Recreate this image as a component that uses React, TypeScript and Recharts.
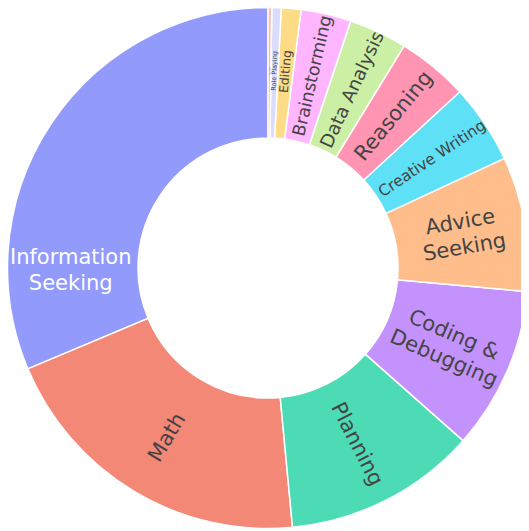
import { Cell, Pie, PieChart } from "recharts";

const categories = [
  "Information Seeking",
  "Math",
  "Planning",
  "Coding & Debugging",
  "Advice Seeking",
  "Creative Writing",
  "Reasoning",
  "Data Analysis",
  "Brainstorming",
  "Editing",
  "Role Playing",
  "Others",
];
const shares = [31.33, 20.17, 11.97, 10.08, 8.36, 4.92, 4.42, 3.61, 3.11, 1.22, 0.58, 0.23];
const labelLines = [
  ["Information", "Seeking"],
  ["Math"],
  ["Planning"],
  ["Coding &", "Debugging"],
  ["Advice", "Seeking"],
  ["Creative Writing"],
  ["Reasoning"],
  ["Data Analysis"],
  ["Brainstorming"],
  ["Editing"],
  ["Role Playing"],
  ["Others"],
];

const colors = [
  "#929AFC", "#F48876", "#4DDBB6", "#C492FC", "#FFBD8C", "#5EE0F7",
  "#FF94B3", "#CCEFA6", "#FFB6FF", "#FEDB86", "#D9DCFA", "#F8C0B6",
];
// label font size per slice (plotly shrinks text to fit)
const fontSizes = [21, 21, 21, 21, 21, 15.5, 21, 18.5, 17.5, 12.3, 6.5, 2];

const data = categories.map((c, i) => ({ name: c, value: shares[i] }));

const FONT = "'DejaVu Sans', Verdana, sans-serif";
const RAD = Math.PI / 180;

function renderLabel(props: any) {
  const { cx, cy, midAngle, innerRadius, outerRadius, index } = props;
  const r = (innerRadius + outerRadius) / 2 + 2;
  const horizontal = index === 0;
  let a = ((midAngle % 360) + 360) % 360;
  if (horizontal) a = 180.5;
  const x = cx + r * Math.cos(-a * RAD);
  const y = cy + r * Math.sin(-a * RAD);
  let rot = 0;
  if (!horizontal) {
    rot = a > 90 && a < 270 ? 180 - a : -a;
    while (rot > 180) rot -= 360;
    while (rot <= -180) rot += 360;
  }
  const lines = labelLines[index];
  const size = fontSizes[index];
  const lh = size * 1.22;
  const first = -((lines.length - 1) / 2) * lh;
  return (
    <text
      x={x}
      y={y}
      transform={`rotate(${rot} ${x} ${y})`}
      textAnchor="middle"
      dominantBaseline="central"
      fontFamily={FONT}
      fontSize={size}
      fill={index === 0 ? "#ffffff" : "#444444"}
    >
      {lines.map((l, i) => (
        <tspan key={i} x={x} dy={i === 0 ? first : lh}>
          {l}
        </tspan>
      ))}
    </text>
  );
}

export default function App() {
  return (
    <PieChart width={521} height={523} margin={{ top: 0, right: 0, bottom: 0, left: 0 }}>
      <Pie
        data={data}
        dataKey="value"
        nameKey="name"
        cx={260}
        cy={260}
        innerRadius={130}
        outerRadius={260.5}
        startAngle={90}
        endAngle={450}
        stroke="#ffffff"
        strokeWidth={1.5}
        label={renderLabel}
        labelLine={false}
        isAnimationActive={false}
      >
        {data.map((d, i) => (
          <Cell key={d.name} fill={colors[i]} />
        ))}
      </Pie>
    </PieChart>
  );
}
